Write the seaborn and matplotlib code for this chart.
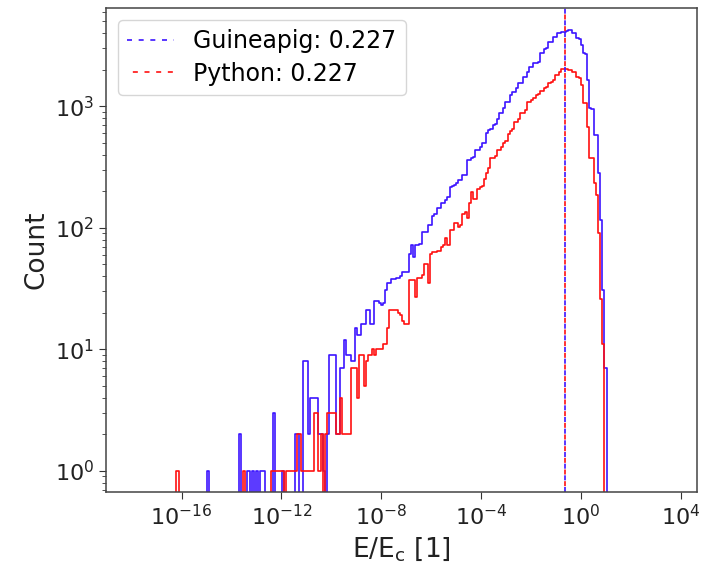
import numpy as np
import pandas as pd
import matplotlib
matplotlib.use("Agg")
import matplotlib.pyplot as plt
import seaborn as sns
from matplotlib.ticker import NullLocator

# ---------------- data ----------------
# histogram bins are log-spaced: log10 of the left edge of the first bin and bin width (decades)
log_first_edge = -16.207
log_bin_width = 0.0862

guineapig_counts = [
    0, 0, 0, 0, 0, 0, 0, 0, 0, 0,
    0, 0, 0, 0, 1, 0, 0, 0, 0, 0,
    0, 0, 0, 0, 0, 0, 0, 0, 0, 2,
    0, 0, 0, 1, 0, 1, 0, 1, 0, 1,
    1, 0, 0, 0, 0, 3, 0, 0, 0, 1,
    0, 0, 0, 0, 0, 2, 2, 0, 0, 8,
    8, 2, 4, 4, 4, 4, 2, 2, 1, 0,
    2, 9, 9, 9, 2, 2, 7, 7, 12, 9,
    9, 8, 8, 15, 13, 13, 16, 16, 21, 21,
    16, 16, 25, 25, 24, 23, 24, 31, 35, 35,
    38, 38, 39, 39, 40, 43, 43, 43, 61, 72,
    57, 72, 72, 73, 92, 92, 93, 106, 106, 125,
    129, 147, 147, 159, 160, 169, 178, 215, 221, 226,
    235, 248, 248, 273, 274, 365, 365, 379, 384, 435,
    435, 460, 497, 500, 604, 642, 648, 708, 712, 792,
    874, 880, 965, 1083, 1090, 1238, 1315, 1320, 1404, 1548,
    1552, 1737, 1740, 1917, 2115, 2120, 2292, 2296, 2301, 2726,
    2730, 2991, 3009, 3363, 3370, 3699, 3705, 4000, 4010, 4115,
    4120, 4160, 4239, 4245, 4000, 3983, 3629, 3620, 3186, 2726,
    2720, 1638, 965, 960, 583, 580, 282, 116, 31, 7,
]

python_counts = [
    1, 0, 0, 0, 0, 0, 0, 0, 0, 0,
    0, 0, 0, 0, 0, 0, 0, 0, 0, 0,
    0, 0, 0, 0, 0, 0, 0, 0, 0, 0,
    0, 1, 0, 0, 0, 0, 0, 0, 0, 0,
    0, 0, 0, 0, 1, 1, 1, 1, 1, 1,
    0, 1, 1, 1, 1, 1, 2, 2, 1, 1,
    1, 1, 1, 1, 3, 3, 1, 2, 0, 2,
    3, 3, 3, 3, 2, 2, 4, 2, 2, 2,
    2, 7, 7, 7, 4, 9, 9, 5, 8, 9,
    9, 10, 9, 10, 10, 10, 11, 11, 15, 21,
    21, 21, 21, 20, 19, 17, 16, 16, 37, 37,
    37, 27, 39, 39, 41, 50, 50, 35, 61, 63,
    63, 65, 65, 69, 72, 82, 72, 96, 96, 110,
    110, 101, 106, 130, 135, 120, 159, 197, 174, 174,
    207, 216, 221, 254, 282, 310, 376, 376, 389, 435,
    435, 463, 500, 518, 592, 629, 648, 737, 737, 792,
    874, 874, 937, 1083, 1083, 1138, 1174, 1238, 1256, 1350,
    1350, 1422, 1440, 1548, 1575, 1638, 1800, 1800, 1917, 2034,
    2034, 2016, 1989, 1989, 1917, 1917, 1737, 1710, 1494, 1074,
    1074, 680, 379, 379, 234, 188, 90, 26, 11, 0,
]

series_names = ["Guineapig", "Python"]
series_colors = ["#3c14ff", "#ff1010"]
mean_values = [0.227, 0.227]   # vertical marker position for each series

x_tick_values = [1e-16, 1e-12, 1e-8, 1e-4, 1e0, 1e4]
x_limits = (10 ** -19.03, 10 ** 4.66)
y_limits = (10 ** -0.175, 10 ** 3.81)

# ---------------- build table ----------------
n_bins = len(guineapig_counts) + 2          # one empty bin padded on each side
log_edges = log_first_edge - log_bin_width + log_bin_width * np.arange(n_bins + 1)
log_centers = 0.5 * (log_edges[:-1] + log_edges[1:])

frames = []
for name, counts in zip(series_names, [guineapig_counts, python_counts]):
    padded = [0] + list(counts) + [0]
    frames.append(pd.DataFrame({"energy": 10 ** log_centers,
                                "count": padded,
                                "series": name}))
df = pd.concat(frames, ignore_index=True)

# ---------------- plot ----------------
fig = plt.figure(figsize=(7.15, 5.66), dpi=100)
ax = fig.add_axes([106 / 715, 1 - 492 / 566, (697 - 106) / 715, (492 - 8) / 566])

for name, color in zip(series_names, series_colors):
    sns.histplot(data=df[df["series"] == name], x="energy", weights="count",
                 bins=[float(e) for e in log_edges], log_scale=True,
                 element="step", fill=False,
                 color=color, linewidth=1.2, ax=ax)

ax.set_yscale("log")

dash_styles = [(0, (3, 4)), (3.5, (3, 4))]
handles = []
for name, color, val, ls in zip(series_names, series_colors, mean_values, dash_styles):
    h = ax.axvline(val, color=color, linestyle=ls, linewidth=1.2,
                   label=f"{name}: {val:.3f}")
    handles.append(h)

ax.set_xlim(*x_limits)
ax.set_ylim(*y_limits)
ax.set_xticks(x_tick_values)
ax.xaxis.set_minor_locator(NullLocator())

ax.set_xlabel(r"E/E$_{\mathrm{c}}$ [1]", fontsize=19, color="#222222")
ax.set_ylabel("Count", fontsize=19, color="#222222")
ax.tick_params(axis="both", which="major", labelsize=16, colors="#333333",
               labelcolor="#222222", length=5)
ax.tick_params(axis="both", which="minor", colors="#333333", length=3)
for sp in ax.spines.values():
    sp.set_color("#444444")
    sp.set_linewidth(1.1)

ax.legend(handles=handles, loc="upper left", fontsize=17, handlelength=2.0,
          labelspacing=0.35)

fig.savefig("out.png", dpi=100)
